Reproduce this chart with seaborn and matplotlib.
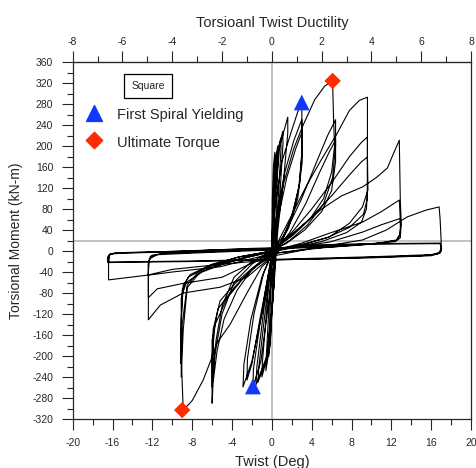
import pandas as pd
import matplotlib.pyplot as plt
import seaborn as sns
from matplotlib.ticker import MultipleLocator

# hysteresis history, one list of (twist deg, moment kN-m) per cycle
cyc_01 = [(0.0, 0), (0.05, 100), (0.15, 160), (0.3, 188), (0.36, 170), (0.3, 100), (0.2, 20),
          (0.05, -80), (-0.1, -160), (-0.3, -200), (-0.3, -175), (-0.15, -100), (0.0, -10)]
cyc_02 = [(0.0, -10), (0.1, 90), (0.3, 170), (0.6, 200), (0.63, 180), (0.5, 110), (0.35, 25),
          (0.15, -80), (-0.2, -180), (-0.6, -228), (-0.55, -200), (-0.3, -110), (0.0, -15)]
cyc_03 = [(0.0, -15), (0.15, 90), (0.45, 180), (0.9, 215), (0.92, 195), (0.7, 120), (0.4, 25),
          (0.15, -80), (-0.3, -190), (-1.0, -240), (-0.95, -212), (-0.55, -120), (-0.1, -20)]
cyc_04 = [(-0.1, -20), (0.2, 90), (0.6, 190), (1.1, 228), (1.12, 205), (0.85, 120), (0.45, 25),
          (0.15, -80), (-0.4, -200), (-1.4, -250), (-1.3, -220), (-0.7, -120), (-0.1, -20)]
cyc_05 = [(-0.1, -20), (0.25, 90), (0.8, 200), (1.6, 255), (1.6, 225), (1.2, 140), (0.6, 40),
          (0.2, -70), (-0.5, -200), (-1.6, -255), (-1.5, -220), (-0.8, -110), (-0.1, -15)]
cyc_06 = [(-0.1, -15), (0.3, 80), (1.0, 170), (2.0, 230), (2.6, 265), (3.0, 282), (3.05, 200),
          (2.8, 130), (2.1, 70), (1.1, 25), (0.3, -10), (-0.4, -110), (-1.1, -210), (-1.9, -259),
          (-1.85, -225), (-1.2, -140), (-0.5, -60), (0.0, -5)]
cyc_07 = [(0.0, -5), (0.5, 70), (1.3, 150), (2.2, 210), (3.0, 250), (3.05, 190), (2.7, 120),
          (1.9, 60), (0.9, 15), (0.0, -25), (-0.9, -110), (-2.0, -210), (-2.9, -259),
          (-2.8, -215), (-2.1, -130), (-1.0, -50), (0.0, -5)]
cyc_08 = [(0.0, -5), (0.6, 60), (1.5, 140), (2.4, 195), (3.0, 225), (3.05, 170), (2.6, 100),
          (1.7, 45), (0.7, 8), (-0.3, -40), (-1.2, -130), (-2.0, -215), (-2.5, -246),
          (-2.45, -205), (-1.8, -120), (-0.8, -40), (0.0, -5)]
cyc_09 = [(0.0, -5), (0.5, 60), (1.2, 130), (2.2, 195), (3.1, 238), (4.3, 288), (5.3, 314),
          (6.1, 324), (6.2, 250), (6.3, 200), (6.0, 150), (5.2, 100), (3.8, 60), (2.0, 28),
          (0.5, 8), (-0.5, -10), (-2.0, -35), (-3.5, -75), (-4.8, -130), (-5.5, -190),
          (-5.9, -250), (-6.0, -290), (-6.0, -200), (-5.7, -140), (-4.5, -90), (-2.8, -50),
          (-1.0, -20), (0.0, -5)]
cyc_10 = [(0.0, -5), (1.5, 40), (3.0, 100), (4.5, 170), (5.6, 220), (6.4, 250), (6.4, 200),
          (6.1, 140), (5.2, 90), (3.6, 50), (1.8, 20), (0.0, 0), (-2.0, -25), (-3.8, -60),
          (-5.0, -120), (-5.7, -195), (-6.0, -259), (-6.0, -170), (-5.4, -110), (-3.8, -70),
          (-2.0, -35), (0.0, -8)]
cyc_11 = [(0.0, -8), (1.8, 35), (3.4, 90), (4.8, 150), (5.8, 190), (6.4, 211), (6.4, 170),
          (6.0, 115), (5.0, 75), (3.3, 40), (1.5, 15), (0.0, 0), (-2.0, -20), (-3.8, -50),
          (-5.0, -105), (-5.6, -170), (-5.9, -225), (-5.9, -150), (-5.2, -95), (-3.6, -60),
          (-1.8, -30), (0.0, -5)]
cyc_12 = [(0.0, -5), (1.5, 50), (3.5, 125), (5.0, 175), (6.5, 222), (7.8, 268), (8.8, 287),
          (9.6, 293), (9.6, 180), (9.65, 116), (9.1, 84), (7.8, 53), (5.8, 27), (3.0, 12),
          (1.0, 5), (-1.0, -30), (-2.5, -80), (-4.2, -140), (-5.5, -175), (-6.0, -202),
          (-6.9, -246), (-8.0, -285), (-8.9, -303), (-9.1, -200), (-9.1, -90), (-8.6, -60),
          (-7.0, -40), (-4.5, -22), (-2.0, -8), (0.0, 0)]
cyc_13 = [(0.0, 0), (2.0, 35), (4.0, 80), (6.0, 130), (7.8, 180), (9.0, 207), (9.6, 217),
          (9.6, 150), (9.6, 100), (9.2, 70), (7.8, 45), (5.5, 25), (3.0, 12), (0.0, 0),
          (-3.0, -15), (-5.5, -28), (-7.2, -40), (-8.5, -70), (-8.9, -150), (-9.1, -240),
          (-9.1, -150), (-9.0, -75), (-8.4, -50), (-6.5, -30), (-3.5, -12), (0.0, 0)]
cyc_14 = [(0.0, 0), (2.0, 30), (4.0, 65), (6.0, 105), (7.8, 145), (9.0, 170), (9.6, 179),
          (9.6, 120), (9.5, 80), (9.0, 55), (7.5, 35), (5.0, 18), (2.5, 8), (0.0, -2),
          (-3.0, -14), (-5.5, -25), (-7.3, -38), (-8.5, -65), (-9.0, -140), (-9.1, -215),
          (-9.1, -130), (-8.9, -65), (-8.2, -45), (-6.0, -25), (-3.0, -10), (0.0, 0)]
cyc_15 = [(0.0, 0), (2.5, 40), (5.0, 80), (7.0, 105), (9.1, 122), (10.5, 140), (11.6, 158),
          (12.2, 185), (12.8, 211), (12.85, 150), (12.9, 97), (13.0, 50), (12.8, 30),
          (12.5, 21), (10.8, 15), (8.0, 12), (4.0, 5), (0.0, -10), (-2.5, -50), (-5.2, -69),
          (-8.9, -80), (-11.2, -103), (-12.4, -131), (-12.4, -60), (-12.4, -21), (-12.0, -8),
          (-10.0, -2), (-6.0, 2), (-2.0, 5), (0.0, 6)]
cyc_16 = [(0.0, 0), (3.0, 15), (5.8, 34), (9.1, 55), (11.0, 75), (12.8, 97), (12.9, 60),
          (12.9, 30), (12.5, 20), (10.0, 13), (5.0, 6), (0.0, -5), (-5.0, -50), (-9.0, -62),
          (-11.5, -72), (-12.4, -89), (-12.4, -40), (-12.3, -15), (-11.5, -7), (-8.0, -4),
          (-4.0, -1), (0.0, 2)]
cyc_17 = [(0.0, 2), (4.0, 12), (5.8, 17), (9.1, 36), (11.0, 50), (12.9, 62), (12.95, 40),
          (12.9, 25), (12.4, 18), (9.0, 12), (4.0, 5), (0.0, -5), (-5.2, -30), (-10.0, -40),
          (-12.4, -46), (-12.4, -25), (-12.2, -10), (-11.0, -5), (-7.0, -2), (-3.0, 1),
          (0.0, 3)]
cyc_18 = [(0.0, 3), (5.0, 8), (9.1, 21), (11.5, 40), (13.6, 65), (15.5, 78), (16.8, 84),
          (16.9, 60), (17.0, 20), (17.0, 0), (16.6, -6), (15.0, -9), (10.0, -12), (5.0, -15),
          (0.0, -17), (-5.0, -25), (-10.0, -35), (-12.5, -46), (-16.4, -55), (-16.4, -25),
          (-16.3, -8), (-15.8, -4), (-12.0, -2), (-6.0, 2), (0.0, 5)]
cyc_19 = [(0.0, 5), (5.0, 12), (10.0, 14), (16.9, 15), (17.0, 5), (16.8, -3), (16.0, -7),
          (10.0, -11), (0.0, -16), (-8.0, -19), (-16.4, -21), (-16.4, -10), (-16.2, -5),
          (-15.0, -3), (-8.0, 0), (0.0, 4)]
cyc_20 = [(0.0, 4), (5.0, 10), (10.0, 13), (16.9, 14), (17.05, 4), (16.9, -4), (16.0, -9),
          (10.0, -13), (0.0, -17), (-8.0, -20), (-16.5, -22), (-16.5, -12), (-16.3, -6),
          (-15.0, -4), (-8.0, -1), (0.0, 3)]

yield_twist = [3.0, -1.9]
yield_moment = [283, -258]
ultimate_twist = [6.1, -9.0]
ultimate_moment = [324, -303]

cycles = [cyc_01, cyc_02, cyc_03, cyc_04, cyc_05, cyc_06, cyc_07, cyc_08, cyc_09, cyc_10,
          cyc_11, cyc_12, cyc_13, cyc_14, cyc_15, cyc_16, cyc_17, cyc_18, cyc_19, cyc_20]

rows = []
for pts in cycles:
    rows.extend(pts)
df = pd.DataFrame(rows, columns=["twist", "moment"])

sns.set_style("ticks")
plt.rcParams["font.family"] = ["Liberation Sans", "DejaVu Sans"]
plt.rcParams["axes.unicode_minus"] = False

fig = plt.figure(figsize=(4.76, 4.68), dpi=100)
ax = fig.add_axes([0.1527, 0.1047, 0.8368, 0.7628])

ax.axvline(0, color="#bdbdbd", lw=1.3, zorder=0)
ax.axhline(20, color="#bdbdbd", lw=1.3, zorder=0)

sns.lineplot(data=df, x="twist", y="moment", sort=False, estimator=None,
             color="black", lw=0.8, ax=ax)

sns.scatterplot(x=yield_twist, y=yield_moment, marker="^", s=130, color="#1238ff",
                edgecolor="none", ax=ax, zorder=5)
sns.scatterplot(x=ultimate_twist, y=ultimate_moment, marker="D", s=70, color="#ff2a00",
                edgecolor="none", ax=ax, zorder=5)

ax.set_xlim(-20, 20)
ax.set_ylim(-320, 360)
ax.xaxis.set_major_locator(MultipleLocator(4))
ax.xaxis.set_minor_locator(MultipleLocator(2))
ax.yaxis.set_major_locator(MultipleLocator(40))
ax.yaxis.set_minor_locator(MultipleLocator(20))
ax.tick_params(which="major", direction="out", length=8, width=0.8, labelsize=7.5, pad=6)
ax.tick_params(which="minor", direction="out", length=4, width=0.8)
for sp in ax.spines.values():
    sp.set_linewidth(0.9)

ax.set_xlabel("Twist (Deg)", fontsize=10.5)
ax.xaxis.set_label_coords(0.5, -0.1)
ax.set_ylabel("Torsional Moment (kN-m)", fontsize=10)
ax.yaxis.set_label_coords(-0.125, 0.5)

top = ax.secondary_xaxis("top", functions=(lambda t: t / 2.5, lambda d: d * 2.5))
top.xaxis.set_major_locator(MultipleLocator(2))
top.xaxis.set_minor_locator(MultipleLocator(1))
top.tick_params(which="major", direction="out", length=8, width=0.8, labelsize=7.5, pad=3)
top.tick_params(which="minor", direction="out", length=4, width=0.8)
top.set_xlabel("Torsioanl Twist Ductility", fontsize=10.5, labelpad=7)

# legend drawn by hand like the original
ax.text(-12.45, 314, "Square", fontsize=7.5, ha="center", va="center",
        bbox=dict(boxstyle="square,pad=0.7", fc="white", ec="black", lw=0.9))
ax.scatter([0.054], [0.857], marker="^", s=130, color="#1238ff", transform=ax.transAxes,
           clip_on=False, zorder=5)
ax.text(0.111, 0.852, "First Spiral Yielding", fontsize=10.5, va="center", transform=ax.transAxes)
ax.scatter([0.054], [0.781], marker="D", s=70, color="#ff2a00", transform=ax.transAxes,
           clip_on=False, zorder=5)
ax.text(0.111, 0.773, "Ultimate Torque", fontsize=10.5, va="center", transform=ax.transAxes)

fig.savefig("out.png", dpi=100)
